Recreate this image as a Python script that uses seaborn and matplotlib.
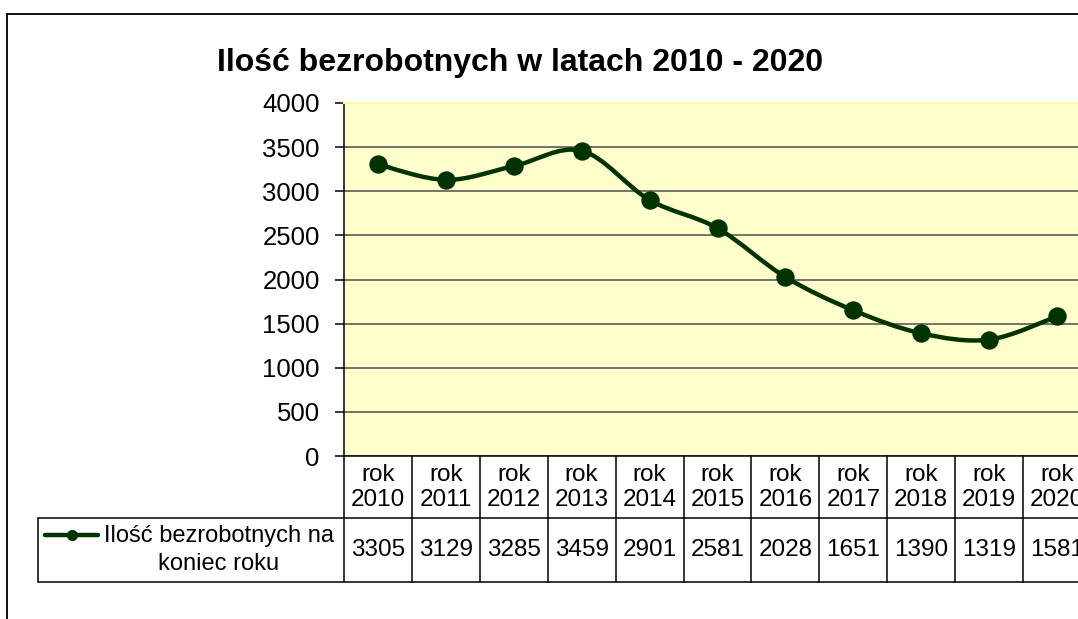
import numpy as np
import pandas as pd
import seaborn as sns
import matplotlib.pyplot as plt
from matplotlib.path import Path
from matplotlib.patches import PathPatch
from matplotlib.lines import Line2D
from matplotlib.transforms import blended_transform_factory

# Data
years = ["2010", "2011", "2012", "2013", "2014", "2015", "2016", "2017", "2018", "2019", "2020"]
values = [3305, 3129, 3285, 3459, 2901, 2581, 2028, 1651, 1390, 1319, 1581]
y_ticks = [0, 500, 1000, 1500, 2000, 2500, 3000, 3500, 4000]
series_name = "Ilość bezrobotnych na\nkoniec roku"
title = "Ilość bezrobotnych w latach 2010 - 2020"

sns.set_theme(style="white")
plt.rcParams["font.family"] = ["Liberation Sans", "DejaVu Sans"]
plt.rcParams["text.color"] = "black"
plt.rcParams["xtick.color"] = "black"
plt.rcParams["ytick.color"] = "black"

GREEN = "#003300"
W, H = 1078, 619

df = pd.DataFrame({"rok": [f"rok\n{y}" for y in years], "value": values})

fig = plt.figure(figsize=(W / 100, H / 100), dpi=100)
# plot area runs past the right edge like in the cropped original
ax = fig.add_axes([344 / W, 163 / H, 747 / W, 353 / H])
ax.set_facecolor("#FFFFCC")

# smoothed line (Excel style bezier through the points)
pos = np.arange(len(values))
pts = np.column_stack([pos, values]).astype(float)
verts = [pts[0]]
codes = [Path.MOVETO]
for i in range(len(pts) - 1):
    prev = pts[max(i - 1, 0)]
    nxt = pts[min(i + 2, len(pts) - 1)]
    verts += [pts[i] + (pts[i + 1] - prev) / 6, pts[i + 1] - (nxt - pts[i]) / 6, pts[i + 1]]
    codes += [Path.CURVE4] * 3
ax.add_patch(PathPatch(Path(verts, codes), fill=False, edgecolor=GREEN, lw=3.2,
                       capstyle="round", joinstyle="round", zorder=2))

sns.scatterplot(data=df, x="rok", y="value", color=GREEN, s=175, linewidth=0,
                ax=ax, zorder=3, legend=False)

ax.set_xlim(-0.5, 10.5)
ax.set_ylim(0, 4000)
ax.set_yticks(y_ticks)
ax.set_xlabel("")
ax.set_ylabel("")
ax.yaxis.grid(True, color="#4d4d4d", lw=1.1)
ax.set_axisbelow(True)

for side in ["left", "bottom"]:
    ax.spines[side].set_color("black")
    ax.spines[side].set_linewidth(1.1)
ax.spines["top"].set_color("#FFF59D")
ax.spines["top"].set_linewidth(1.5)
ax.spines["right"].set_visible(False)

ax.tick_params(axis="y", direction="out", length=6.5, width=1.1, color="black",
               labelsize=18.5, pad=11, left=True)
ax.tick_params(axis="x", length=0, labelsize=17.5, pad=5.5)
for lab in ax.get_xticklabels():
    lab.set_linespacing(1.22)

# data table under the chart
tr = blended_transform_factory(ax.transData, ax.transAxes)
row1, row2 = -0.1756, -0.357
leg_left = -0.5 + (38 - 344) / 67.9
lkw = dict(transform=tr, color="black", lw=1.1, clip_on=False)
for b in np.arange(-0.5, 11, 1):
    ax.add_line(Line2D([b, b], [0, row2], **lkw))
ax.add_line(Line2D([leg_left, 11], [row1, row1], **lkw))
ax.add_line(Line2D([leg_left, 11], [row2, row2], **lkw))
ax.add_line(Line2D([leg_left, leg_left], [row1, row2], **lkw))

for i, v in enumerate(values):
    ax.text(i, -0.266, str(v), transform=tr, ha="center", va="center", fontsize=17.5,
            clip_on=False)

# legend key in the table
ax.add_line(Line2D([-0.5 + (45 - 344) / 67.9, -0.5 + (98 - 344) / 67.9], [-0.224, -0.224],
                   transform=tr, color=GREEN, lw=3.2, clip_on=False))
ax.add_line(Line2D([-0.5 + (72 - 344) / 67.9], [-0.224], transform=tr, marker="o",
                   markersize=7, color=GREEN, clip_on=False))
ax.text(-0.5 + (219 - 344) / 67.9, -0.266, series_name, transform=tr, ha="center",
        va="center", multialignment="center", fontsize=17, linespacing=1.35, clip_on=False)

fig.text(520 / W, 1 - 63 / H, title, ha="center", va="center", fontsize=23,
         fontweight="bold")

# outer chart border
fig.add_artist(Line2D([7 / W, 7 / W], [0, 1 - 14 / H], transform=fig.transFigure,
                      color="black", lw=1.3))
fig.add_artist(Line2D([7 / W, 1], [1 - 14 / H, 1 - 14 / H], transform=fig.transFigure,
                      color="black", lw=1.3))

fig.savefig("out.png", dpi=100)
